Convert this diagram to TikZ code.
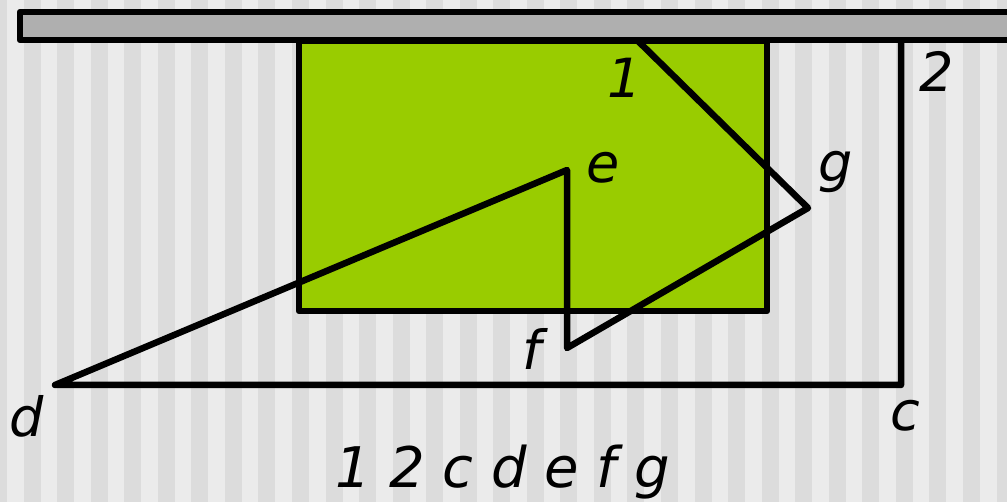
\documentclass[tikz,border=0pt]{standalone}
\usepackage{fontspec}
\setmainfont{DejaVu Sans}
\usetikzlibrary{positioning}
\definecolor{leaf}{HTML}{99CC00}
\definecolor{barfill}{HTML}{AFAFAF}
\definecolor{stripelight}{HTML}{EBEBEB}
\definecolor{stripedark}{HTML}{DCDCDC}
\tikzset{
  edge/.style={line width=6.5pt,line join=round,line cap=round},
  lbl/.style={font=\itshape\fontsize{54}{60}\selectfont,inner sep=0pt,anchor=base},
}
\begin{document}
\begin{tikzpicture}[x=1pt,y=-1pt]
\clip (0,0) rectangle (1007,502);
% background stripes
\fill[stripelight] (0,0) rectangle (1007,502);
\foreach \k in {0,...,30}
\fill[stripedark] ({-10+33.55*\k},0) rectangle ({7+33.55*\k},502);
%
\draw[edge,fill=leaf] (299,41) rectangle (767,311);
%
\coordinate (v1) at (638,41);
\coordinate (v2) at (901,41);
\coordinate (c) at (901,385);
\coordinate (d) at (55,385);
\coordinate (e) at (567,170);
\coordinate (f) at (567,348);
\coordinate (g) at (808,208);
\draw[edge] (v1) -- (g) -- (f) -- (e) -- (d) -- (c) -- (v2);
%
\draw[edge,fill=barfill] (20,12) rectangle (1040,40);
%
\node[lbl] (l1) at (625,98) {1};
\node[lbl] (l2) at (937,92) {2};
\node[lbl] (lc) at (905,431) {c};
\node[lbl] (ld) at (27,437) {d};
\node[lbl] (le) at (603,183) {e};
\node[lbl] (lf) at (532,370) {f};
\node[lbl] (lg) at (836,182) {g};
\node[lbl,font=\itshape\fontsize{56}{60}\selectfont] (names) at (503,487) {1 2 c d e f g};
\end{tikzpicture}
\end{document}
